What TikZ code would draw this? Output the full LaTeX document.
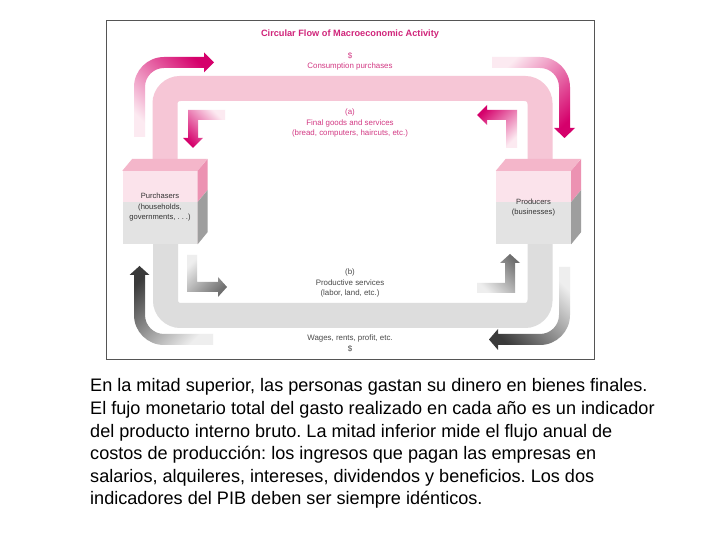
\documentclass[tikz,border=0pt]{standalone}
\usepackage{fontspec}
\setmainfont{Liberation Sans}

\definecolor{bandpink}{HTML}{F6C6D6}
\definecolor{bandgray}{HTML}{DDDDDD}
\definecolor{frontpink}{HTML}{FBE3EB}
\definecolor{frontgray}{HTML}{E3E3E3}
\definecolor{boxtop}{HTML}{F4B6CA}
\definecolor{sidepink}{HTML}{EC92B2}
\definecolor{sidegray}{HTML}{9E9E9E}
\definecolor{headpink}{HTML}{D5006B}
\definecolor{tailpink}{HTML}{FCEAF1}
\definecolor{headgray}{HTML}{6E6E6E}
\definecolor{outergray}{HTML}{3A3A3A}
\definecolor{tailgray}{HTML}{EEEEEE}
\definecolor{titlepink}{HTML}{D0247A}
\definecolor{labelpink}{HTML}{D33A84}
\definecolor{labelgray}{HTML}{4A4A4A}
\definecolor{boxtext}{HTML}{333333}
\definecolor{framegray}{HTML}{555555}

\newcommand\titlefont{\fontsize{9.2}{11}\selectfont\bfseries}
\newcommand\labelfont{\fontsize{7.9}{10.5}\selectfont}
\newcommand\boxfont{\fontsize{7.6}{10.5}\selectfont}
\newcommand\captionfont{\fontsize{18.1}{22.6}\selectfont}

\begin{document}
\frenchspacing
\begin{tikzpicture}[x=1pt,y=1pt]
    \tikzstyle{pinkband}=[draw=bandpink,line width=25pt,rounded corners=15pt]
    \tikzstyle{grayband}=[draw=bandgray,line width=25pt,rounded corners=15pt]
    \tikzstyle{front}=[rectangle,minimum width=75pt,minimum height=73pt,inner sep=0pt,
        fill=frontpink,text=boxtext,align=center,font=\boxfont,
        path picture={\fill[frontgray] (path picture bounding box.south west)
            rectangle ([yshift=5.5pt]path picture bounding box.east);}]
    \tikzstyle{toplabel}=[text=labelpink,align=center,font=\labelfont,inner sep=0pt]
    \tikzstyle{botlabel}=[text=labelgray,align=center,font=\labelfont,inner sep=0pt]

    \useasboundingbox (0,0) rectangle (728,546);
    \fill[white] (0,0) rectangle (728,546);
    \draw[framegray,line width=0.9pt] (106,187) rectangle (594,526);

    %%% DRAW THE BANDS
    \draw[pinkband] (165,381) -- (165,457.5) -- (540,457.5) -- (540,381);
    \draw[grayband] (165.5,310) -- (165.5,230.5) -- (540,230.5) -- (540,310);

    %%% DRAW THE BOXES
    \foreach \name/\x/\txt in {purch/160/{Purchasers\\(households,\\governments, . . .)},
                               prod/533.5/{Producers\\(businesses)}} {
        \node[front] (\name) at (\x,338.5) {\txt};
        \fill[boxtop] (\name.north west) -- ++(10,12) -- ++(75,0) -- (\name.north east) -- cycle;
        \fill[sidepink] (\name.north east) -- ++(10,12) -- ++(0,-31) -- ++(-10,-12) -- cycle;
        \fill[sidegray] ([yshift=5.5pt]\name.east) -- ++(10,12) -- ++(0,-42) -- (\name.south east) -- cycle;
    }

    %%% DRAW THE PINK ARROWS
    \shade[top color=headpink,bottom color=tailpink,shading angle=-45]
        (134,409) -- (134,459) arc[start angle=180,end angle=90,radius=30] -- (204,489)
        -- (204,493.5) -- (214,483.5) -- (204,473.5) -- (204,478) -- (164,478)
        arc[start angle=90,end angle=180,radius=19] -- (145,409) -- cycle;
    \shade[top color=tailpink,bottom color=headpink,shading angle=45]
        (492,489) -- (540,489) arc[start angle=90,end angle=0,radius=30] -- (570,418)
        -- (575,418) -- (564.5,408) -- (554,418) -- (559,418) -- (559,459)
        arc[start angle=0,end angle=90,radius=19] -- (492,478) -- cycle;
    \shade[top color=tailpink,bottom color=headpink,shading angle=-45]
        (225,436) -- (188,436) -- (188,408) -- (183,408) -- (193,398) -- (203,408)
        -- (198,408) -- (198,426) -- (225,426) -- cycle;
    \shade[top color=headpink,bottom color=tailpink,shading angle=45]
        (506,398) -- (506,426) -- (487,426) -- (487,421) -- (477,431) -- (487,441)
        -- (487,436) -- (517,436) -- (517,398) -- cycle;

    %%% DRAW THE GRAY ARROWS
    \shade[top color=tailgray,bottom color=headgray,shading angle=45]
        (187,291) -- (187,254) -- (218,254) -- (218,249) -- (227,259) -- (218,269)
        -- (218,264) -- (197,264) -- (197,291) -- cycle;
    \shade[top color=headgray,bottom color=tailgray,shading angle=-45]
        (477,253) -- (515,253) -- (515,283) -- (520,283) -- (510,292) -- (500,283)
        -- (505,283) -- (505,263) -- (477,263) -- cycle;
    \shade[top color=outergray,bottom color=tailgray,shading angle=45]
        (213,201) -- (164,201) arc[start angle=270,end angle=180,radius=30] -- (134,271)
        -- (129.5,271) -- (139.5,280) -- (149.5,271) -- (145,271) -- (145,231)
        arc[start angle=180,end angle=270,radius=19] -- (213,212) -- cycle;
    \shade[top color=tailgray,bottom color=outergray,shading angle=-45]
        (570,279) -- (570,231) arc[start angle=0,end angle=-90,radius=30] -- (498,201)
        -- (498,196) -- (489,206.5) -- (498,217) -- (498,212) -- (540,212)
        arc[start angle=-90,end angle=0,radius=19] -- (559,279) -- cycle;

    %%% ANNOTATE
    \node[font=\titlefont,text=titlepink] (title) at (350,512) {Circular Flow of Macroeconomic Activity};
    \node[toplabel] (cons) at (350,484.5) {\$\\Consumption purchases};
    \node[toplabel] (goods) at (350,423) {(a)\\Final goods and services\\(bread, computers, haircuts, etc.)};
    \node[botlabel] (serv) at (350,263) {(b)\\Productive services\\(labor, land, etc.)};
    \node[botlabel] (wages) at (350,202.5) {Wages, rents, profit, etc.\\\$};

    \node[anchor=north west,inner sep=0pt,align=left,font=\captionfont] (caption) at (90,167.5)
        {En la mitad superior, las personas gastan su dinero en bienes finales.\\
         El fujo monetario total del gasto realizado en cada año es un indicador\\
         del producto interno bruto. La mitad inferior mide el flujo anual de\\
         costos de producción: los ingresos que pagan las empresas en\\
         salarios, alquileres, intereses, dividendos y beneficios. Los dos\\
         indicadores del PIB deben ser siempre idénticos.};
\end{tikzpicture}
\end{document}
